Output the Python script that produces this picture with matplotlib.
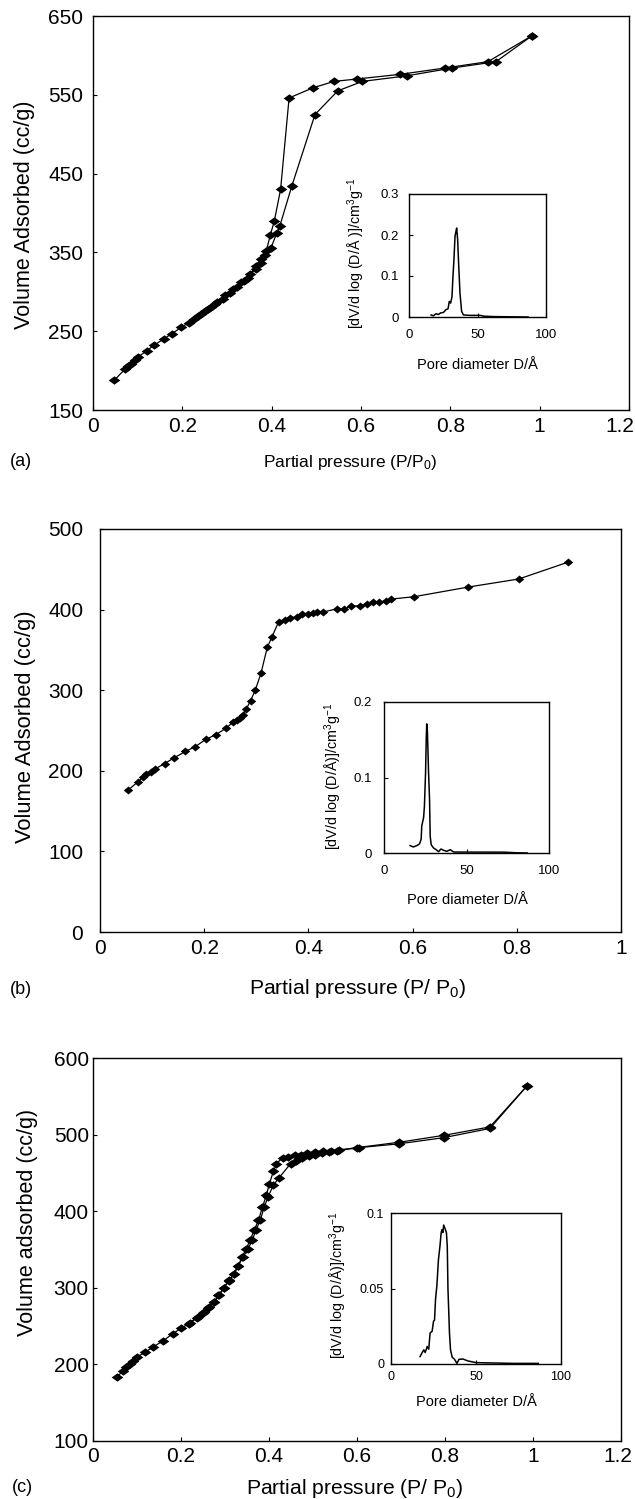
import matplotlib
matplotlib.use("Agg")
import matplotlib.pyplot as plt
from matplotlib.transforms import ScaledTranslation

plt.rcParams['font.family'] = ['Liberation Sans', 'DejaVu Sans']
plt.rcParams['mathtext.fontset'] = 'custom'
plt.rcParams['mathtext.rm'] = 'Liberation Sans'
plt.rcParams['mathtext.it'] = 'Liberation Sans:italic'

# ---------------- data ----------------
# (a) isotherm
a_ads_p = [0.048, 0.072, 0.079, 0.086, 0.093, 0.100, 0.120, 0.136, 0.158, 0.177, 0.198, 0.215,
           0.235, 0.251, 0.264, 0.278, 0.296, 0.314, 0.332, 0.346, 0.364, 0.375, 0.386, 0.398,
           0.411, 0.418, 0.445, 0.497, 0.548, 0.603, 0.702, 0.804, 0.902, 0.983]
a_ads_v = [188, 202, 206, 209, 213, 217, 225, 232, 240, 247, 255, 261,
           269, 276, 281, 287, 296, 304, 312, 318, 329, 336, 347, 355,
           374, 383, 434, 525, 555, 567, 574, 584, 592, 625]
a_des_p = [0.983, 0.884, 0.788, 0.688, 0.590, 0.540, 0.493, 0.439, 0.420, 0.406, 0.397, 0.388,
           0.377, 0.366, 0.352, 0.338, 0.322, 0.306, 0.290, 0.274, 0.258, 0.242, 0.225]
a_des_v = [625, 592, 584, 576, 570, 567, 559, 546, 430, 390, 372, 352,
           342, 333, 322, 314, 306, 299, 291, 285, 278, 272, 265]

# (a) pore size distribution
ia_d = [16.1, 17.8, 19.7, 21.4, 23.1, 25.1, 27.0, 28.5, 29.4, 30.4, 31.4, 31.9, 32.8, 33.6,
        34.3, 34.8, 35.5, 36.3, 37.2, 38.4, 39.7, 44.5, 51.8, 54.7, 61.6, 86.9]
ia_v = [0.005, 0.003, 0.008, 0.006, 0.010, 0.011, 0.018, 0.020, 0.038, 0.034, 0.050, 0.087,
        0.140, 0.197, 0.209, 0.217, 0.189, 0.124, 0.059, 0.014, 0.005, 0.004, 0.004, 0.002,
        0.001, 0.0]

# (b) isotherm
b_p = [0.054, 0.072, 0.083, 0.089, 0.097, 0.105, 0.124, 0.142, 0.164, 0.183, 0.203, 0.223,
       0.242, 0.255, 0.262, 0.268, 0.274, 0.281, 0.289, 0.298, 0.309, 0.321, 0.330, 0.343,
       0.356, 0.365, 0.378, 0.388, 0.399, 0.408, 0.417, 0.428, 0.455, 0.468, 0.482, 0.499,
       0.513, 0.524, 0.536, 0.548, 0.558, 0.603, 0.707, 0.804, 0.899]
b_v = [176, 186, 192, 196, 199, 202, 209, 216, 224, 230, 239, 245,
       253, 260, 263, 266, 269, 277, 287, 300, 321, 353, 366, 385,
       387, 390, 391, 394, 395, 396, 397, 397, 401, 401, 404, 405,
       407, 409, 409, 411, 413, 416, 428, 438, 459]

# (b) pore size distribution
ib_d = [15.8, 17.8, 19.9, 21.5, 22.5, 22.9, 24.0, 24.5, 25.2, 25.6, 25.9, 26.3, 27.0, 27.6,
        28.0, 28.6, 30.0, 31.6, 33.1, 34.5, 36.1, 38.1, 40.2, 42.2, 50.0, 60.0, 72.6, 80.0, 86.8]
ib_v = [0.0098, 0.008, 0.0098, 0.012, 0.018, 0.036, 0.047, 0.062, 0.107, 0.151, 0.171, 0.162,
        0.107, 0.071, 0.022, 0.011, 0.0067, 0.0044, 0.0018, 0.0053, 0.0036, 0.0022, 0.0044,
        0.0013, 0.0012, 0.0012, 0.0011, 0.0003, 0.0]

# (c) isotherm
c_ads_p = [0.055, 0.069, 0.076, 0.084, 0.092, 0.101, 0.119, 0.137, 0.160, 0.181, 0.200, 0.220,
           0.238, 0.252, 0.264, 0.275, 0.286, 0.298, 0.309, 0.321, 0.330, 0.341, 0.352, 0.362,
           0.370, 0.380, 0.389, 0.398, 0.410, 0.422, 0.449, 0.462, 0.476, 0.490, 0.504, 0.520,
           0.537, 0.554, 0.605, 0.696, 0.797, 0.902, 0.987]
c_ads_v = [184, 192, 197, 201, 205, 210, 216, 223, 231, 240, 247, 254,
           262, 268, 275, 281, 290, 300, 310, 318, 329, 340, 351, 362,
           375, 388, 405, 419, 434, 443, 462, 466, 469, 472, 474, 476,
           477, 479, 483, 488, 496, 508, 564]
c_des_p = [0.987, 0.902, 0.797, 0.696, 0.600, 0.559, 0.540, 0.522, 0.504, 0.486, 0.472, 0.458,
           0.444, 0.431, 0.417, 0.410, 0.401, 0.394, 0.385, 0.376, 0.366, 0.357, 0.348, 0.339,
           0.330, 0.320, 0.308, 0.297, 0.285, 0.274, 0.262, 0.250, 0.236, 0.218]
c_des_v = [564, 510, 499, 490, 483, 480, 479, 478, 477, 476, 474, 473,
           471, 470, 462, 452, 436, 421, 405, 388, 375, 362, 351, 340,
           329, 318, 309, 300, 290, 281, 274, 267, 261, 253]

# (c) pore size distribution
ic_d = [17.1, 18.1, 19.3, 20.1, 21.3, 22.2, 23.0, 24.2, 25.0, 25.6, 26.2, 27.0, 27.9, 28.8,
        29.5, 30.0, 30.5, 31.0, 31.7, 32.6, 33.1, 33.5, 34.4, 35.0, 36.0, 37.4, 38.8, 40.0,
        42.3, 45.3, 50.2, 71.9, 86.6]
ic_v = [0.0049, 0.0071, 0.0094, 0.0076, 0.0116, 0.0098, 0.0205, 0.0217, 0.0283, 0.029, 0.0429,
        0.052, 0.069, 0.078, 0.087, 0.089, 0.087, 0.092, 0.090, 0.087, 0.078, 0.05, 0.0205,
        0.0094, 0.0045, 0.0031, 0.0004, 0.0031, 0.0033, 0.002, 0.0009, 0.0004, 0.0004]

# tick labels
ticks_a_x = [0, 0.2, 0.4, 0.6, 0.8, 1, 1.2]
ticks_a_y = [150, 250, 350, 450, 550, 650]
ticks_b_x = [0, 0.2, 0.4, 0.6, 0.8, 1]
ticks_b_y = [0, 100, 200, 300, 400, 500]
ticks_c_x = [0, 0.2, 0.4, 0.6, 0.8, 1, 1.2]
ticks_c_y = [100, 200, 300, 400, 500, 600]
ticks_in_x = [0, 50, 100]
ticks_ia_y = [0, 0.1, 0.2, 0.3]
ticks_ib_y = [0, 0.1, 0.2]
ticks_ic_y = [0, 0.05, 0.1]

# ---------------- figure ----------------
W, H = 635, 1499
fig = plt.figure(figsize=(W / 100, H / 100), dpi=100)


def px_axes(l, r, t, b):
    # pixel box -> figure axes
    return fig.add_axes([l / W, 1 - b / H, (r - l) / W, (b - t) / H])


def fmt(v):
    return ('%g' % v)


def style(ax, xt, yt, fs, xpad, ypad, lw=1.0, tl=3):
    ax.set_xticks(xt)
    ax.set_yticks(yt)
    ax.set_xticklabels([fmt(v) for v in xt])
    ax.set_yticklabels([fmt(v) for v in yt])
    ax.tick_params(direction='in', length=tl, width=0.8, labelsize=fs)
    ax.tick_params(axis='x', pad=xpad)
    ax.tick_params(axis='y', pad=ypad)
    for s in ax.spines.values():
        s.set_linewidth(lw)


def shift_last_xlabel(ax, dx_px):
    lab = ax.get_xticklabels()[-1]
    lab.set_transform(lab.get_transform() + ScaledTranslation(dx_px / 100, 0, fig.dpi_scale_trans))


def ylab(ax, text, fs, x, y, box):
    l, r, t, b = box
    ax.set_ylabel(text, fontsize=fs)
    ax.yaxis.set_label_coords((x - l) / (r - l), (b - y) / (b - t))
    ax.yaxis.label.set(ha='center', va='center', rotation_mode='default')


def xlab(ax, text, fs, x, y, box):
    l, r, t, b = box
    ax.set_xlabel(text, fontsize=fs)
    ax.xaxis.set_label_coords((x - l) / (r - l), (b - y) / (b - t))
    ax.xaxis.label.set(ha='center', va='center')


def diamond(a):
    return [(-1, 0), (0, a), (1, 0), (0, -a), (-1, 0)]


mk_a = dict(color='black', marker=diamond(0.72), markersize=8.4, markeredgewidth=0, linewidth=0.9)
mk_b = dict(color='black', marker=diamond(0.85), markersize=6.8, markeredgewidth=0, linewidth=0.9)

# ----- (a) -----
box = (93, 629, 16, 410)
ax = px_axes(*box)
ax.plot(a_ads_p, a_ads_v, **mk_a)
ax.plot(a_des_p, a_des_v, **mk_a)
ax.set_xlim(0, 1.2)
ax.set_ylim(150, 650)
style(ax, ticks_a_x, ticks_a_y, 15, 5, 7)
shift_last_xlabel(ax, -9)
xlab(ax, 'Partial pressure (P/P$_0$)', 12.5, 350, 462, box)
ylab(ax, 'Volume Adsorbed (cc/g)', 15.5, 24, 215, box)
fig.text(21 / W, 1 - 462 / H, '(a)', fontsize=13, ha='center', va='center')

ibox = (409, 546, 194, 317)
ins = px_axes(*ibox)
ins.plot(ia_d, ia_v, color='black', linewidth=1.1)
ins.set_xlim(0, 100)
ins.set_ylim(0, 0.3)
style(ins, ticks_in_x, ticks_ia_y, 9.5, 9, 7, lw=1.0, tl=3)
xlab(ins, 'Pore diameter D/Å', 10.5, 477, 365, ibox)
ylab(ins, '[dV/d log (D/Å )]/cm$^3$g$^{-1}$', 10.3, 356, 253, ibox)

# ----- (b) -----
box = (100, 621, 529, 932)
ax = px_axes(*box)
ax.plot(b_p, b_v, **mk_b)
ax.set_xlim(0, 1)
ax.set_ylim(0, 500)
style(ax, ticks_b_x, ticks_b_y, 15, 5, 12)
xlab(ax, 'Partial pressure (P/ P$_0$)', 15.2, 358, 988, box)
ylab(ax, 'Volume Adsorbed (cc/g)', 15.8, 26, 727, box)
fig.text(21 / W, 1 - 990 / H, '(b)', fontsize=13, ha='center', va='center')

ibox = (384, 549, 702, 853)
ins = px_axes(*ibox)
ins.plot(ib_d, ib_v, color='black', linewidth=1.1)
ins.set_xlim(0, 100)
ins.set_ylim(0, 0.2)
style(ins, ticks_in_x, ticks_ib_y, 9.5, 9, 9, lw=1.0, tl=3)
xlab(ins, 'Pore diameter D/Å', 10.5, 467, 900, ibox)
ylab(ins, '[dV/d log (D/Å)]/cm$^3$g$^{-1}$', 10.3, 333, 776, ibox)

# ----- (c) -----
box = (93, 621, 1058, 1441)
ax = px_axes(*box)
ax.plot(c_ads_p, c_ads_v, **mk_a)
ax.plot(c_des_p, c_des_v, **mk_a)
ax.set_xlim(0, 1.2)
ax.set_ylim(100, 600)
style(ax, ticks_c_x, ticks_c_y, 15, 4, 3)
shift_last_xlabel(ax, -3)
xlab(ax, 'Partial pressure (P/ P$_0$)', 15.2, 355, 1488, box)
ylab(ax, 'Volume adsorbed (cc/g)', 15.5, 27, 1222, box)
fig.text(22 / W, 1 - 1487 / H, '(c)', fontsize=13, ha='center', va='center')

ibox = (391, 561, 1213, 1364)
ins = px_axes(*ibox)
ins.plot(ic_d, ic_v, color='black', linewidth=1.1)
ins.set_xlim(0, 100)
ins.set_ylim(0, 0.1)
style(ins, ticks_in_x, ticks_ic_y, 9, 5, 5, lw=1.0, tl=3)
xlab(ins, 'Pore diameter D/Å', 10.5, 476, 1402, ibox)
ylab(ins, '[dV/d log (D/Å)]/cm$^3$g$^{-1}$', 10.3, 338, 1285, ibox)

fig.savefig('out.png', dpi=100)
